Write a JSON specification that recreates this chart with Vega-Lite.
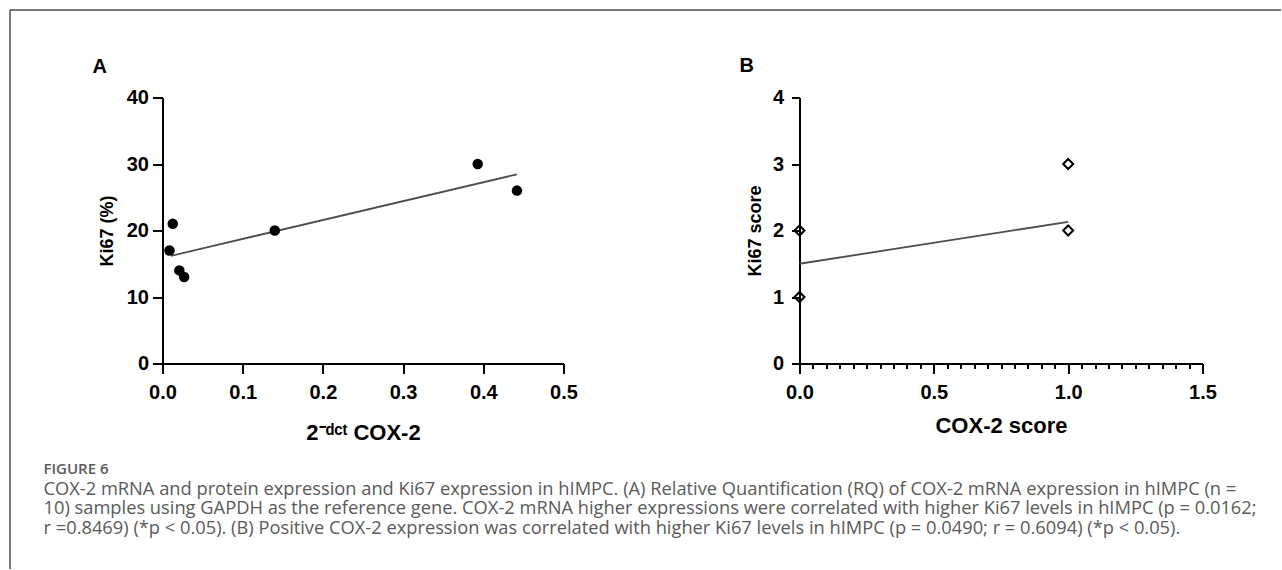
{
  "$schema": "https://vega.github.io/schema/vega-lite/v6.json",
  "padding": {"left": 9.5, "top": 9.5, "right": 0, "bottom": 0},
  "background": "white",
  "bounds": "flush",
  "spacing": 236,
  "datasets": {
    "frame": [],
    "a_points": [
      {"cox2": 0.0087, "ki67": 17},
      {"cox2": 0.0128, "ki67": 21},
      {"cox2": 0.021, "ki67": 14},
      {"cox2": 0.027, "ki67": 13},
      {"cox2": 0.14, "ki67": 20},
      {"cox2": 0.393, "ki67": 30},
      {"cox2": 0.442, "ki67": 26}
    ],
    "a_fit": [
      {"cox2": 0.0108, "ki67": 16.2},
      {"cox2": 0.442, "ki67": 28.45}
    ],
    "b_points": [
      {"score": 0, "ki67": 1},
      {"score": 0, "ki67": 2},
      {"score": 1, "ki67": 2},
      {"score": 1, "ki67": 3}
    ],
    "b_fit": [
      {"score": 0, "ki67": 1.5},
      {"score": 1, "ki67": 2.13}
    ]
  },
  "config": {
    "view": {"stroke": null},
    "font": "Liberation Sans",
    "axis": {
      "domainColor": "black",
      "domainWidth": 2,
      "tickColor": "black",
      "tickWidth": 2,
      "tickSize": 10,
      "labelFont": "Liberation Sans",
      "labelFontSize": 20,
      "labelFontWeight": "bold",
      "labelColor": "black",
      "titleFont": "Liberation Sans",
      "titleFontWeight": "bold",
      "titleColor": "black",
      "grid": false,
      "labelFlush": false,
      "labelOverlap": false,
      "labelBound": false
    }
  },
  "title": {
    "text": "FIGURE 6",
    "subtitle": [
      "COX-2 mRNA and protein expression and Ki67 expression in hIMPC. (A) Relative Quantification (RQ) of COX-2 mRNA expression in hIMPC (n =",
      "10) samples using GAPDH as the reference gene. COX-2 mRNA higher expressions were correlated with higher Ki67 levels in hIMPC (p = 0.0162;",
      "r =0.8469) (*p < 0.05). (B) Positive COX-2 expression was correlated with higher Ki67 levels in hIMPC (p = 0.0490; r = 0.6094) (*p < 0.05)."
    ],
    "orient": "bottom",
    "anchor": "start",
    "frame": "bounds",
    "baseline": "top",
    "dx": 34,
    "offset": -195,
    "font": "Open Sans",
    "fontSize": 15,
    "fontWeight": 600,
    "color": "#5a5a5a",
    "subtitleFont": "Open Sans",
    "subtitleFontSize": 18.3,
    "subtitleColor": "#5a5a5a",
    "subtitleLineHeight": 19.5,
    "subtitlePadding": 4
  },
  "hconcat": [
    {
      "width": 401,
      "height": 266,
      "title": {"text": "A", "anchor": "start", "frame": "group", "dx": -70, "fontSize": 20, "fontWeight": "bold", "font": "Liberation Sans", "color": "black", "baseline": "bottom", "offset": -87},
      "resolve": {"scale": {"x": "independent", "y": "independent"}},
      "layer": [
        {
          "data": {"name": "frame"},
          "mark": {"type": "point", "opacity": 0},
          "encoding": {
            "x": {"field": "fx", "type": "quantitative", "scale": {"domain": [0, 1], "range": [-153, 1118], "nice": false},
              "axis": {"orient": "top", "offset": 88, "ticks": false, "labels": false, "title": null, "domainColor": "#4a4a4a", "domainWidth": 1.5}},
            "y": {"field": "fy", "type": "quantitative", "scale": {"domain": [0, 1], "range": [471, -88], "nice": false},
              "axis": {"orient": "left", "offset": 153, "ticks": false, "labels": false, "title": null, "domainColor": "#4a4a4a", "domainWidth": 1.5}}
          }
        },
        {
          "layer": [
            {
              "data": {"name": "a_fit"},
              "mark": {"type": "line", "color": "#4d4d4d", "strokeWidth": 1.8},
              "encoding": {
                "x": {"field": "cox2", "type": "quantitative", "scale": {"domain": [0, 0.5], "nice": false, "zero": true},
                  "axis": {"orient": "bottom", "values": [0, 0.1, 0.2, 0.3, 0.4, 0.5], "format": ".1f", "title": "2⁻ᵈᶜᵗ COX-2", "titleFontSize": 22, "labelPadding": 9, "titlePadding": 20}},
                "y": {"field": "ki67", "type": "quantitative", "scale": {"domain": [0, 40], "nice": false},
                  "axis": {"orient": "left", "values": [0, 10, 20, 30, 40], "format": "d", "title": "Ki67 (%)", "titleFontSize": 18, "labelPadding": 4, "titlePadding": 10}}
              }
            },
            {
              "data": {"name": "a_points"},
              "mark": {"type": "circle", "color": "black", "size": 110, "opacity": 1},
              "encoding": {
                "x": {"field": "cox2", "type": "quantitative"},
                "y": {"field": "ki67", "type": "quantitative"}
              }
            }
          ]
        }
      ]
    },
    {
      "width": 403,
      "height": 266,
      "title": {"text": "B", "anchor": "start", "frame": "group", "dx": -60, "fontSize": 20, "fontWeight": "bold", "font": "Liberation Sans", "color": "black", "baseline": "bottom", "offset": -8},
      "resolve": {"scale": {"x": "independent"}},
      "layer": [
        {
          "data": {"name": "frame"},
          "mark": {"type": "point", "opacity": 0},
          "encoding": {
            "x": {"field": "fx", "type": "quantitative", "scale": {"domain": [0, 1.5], "nice": false},
              "axis": {"orient": "bottom", "values": [0.05, 0.1, 0.15, 0.2, 0.25, 0.3, 0.35, 0.4, 0.45, 0.55, 0.6, 0.65, 0.7, 0.75, 0.8, 0.85, 0.9, 0.95, 1.05, 1.1, 1.15, 1.2, 1.25, 1.3, 1.35, 1.4, 1.45], "tickSize": 5, "labels": false, "domain": false, "title": null}}
          }
        },
        {
          "layer": [
            {
              "data": {"name": "b_fit"},
              "mark": {"type": "line", "color": "#4d4d4d", "strokeWidth": 1.8},
              "encoding": {
                "x": {"field": "score", "type": "quantitative", "scale": {"domain": [0, 1.5], "nice": false},
                  "axis": {"orient": "bottom", "values": [0, 0.5, 1, 1.5], "format": ".1f", "title": "COX-2 score", "titleFontSize": 22, "labelPadding": 9, "titlePadding": 13}},
                "y": {"field": "ki67", "type": "quantitative", "scale": {"domain": [0, 4], "nice": false},
                  "axis": {"orient": "left", "values": [0, 1, 2, 3, 4], "format": "d", "title": "Ki67 score", "titleFontSize": 18, "tickSize": 8, "labelPadding": 8, "titlePadding": 8}}
              }
            },
            {
              "data": {"name": "b_points"},
              "mark": {"type": "point", "shape": "diamond", "filled": false, "color": "black", "strokeWidth": 2, "size": 100, "opacity": 1},
              "encoding": {
                "x": {"field": "score", "type": "quantitative"},
                "y": {"field": "ki67", "type": "quantitative"}
              }
            }
          ]
        }
      ]
    }
  ]
}
